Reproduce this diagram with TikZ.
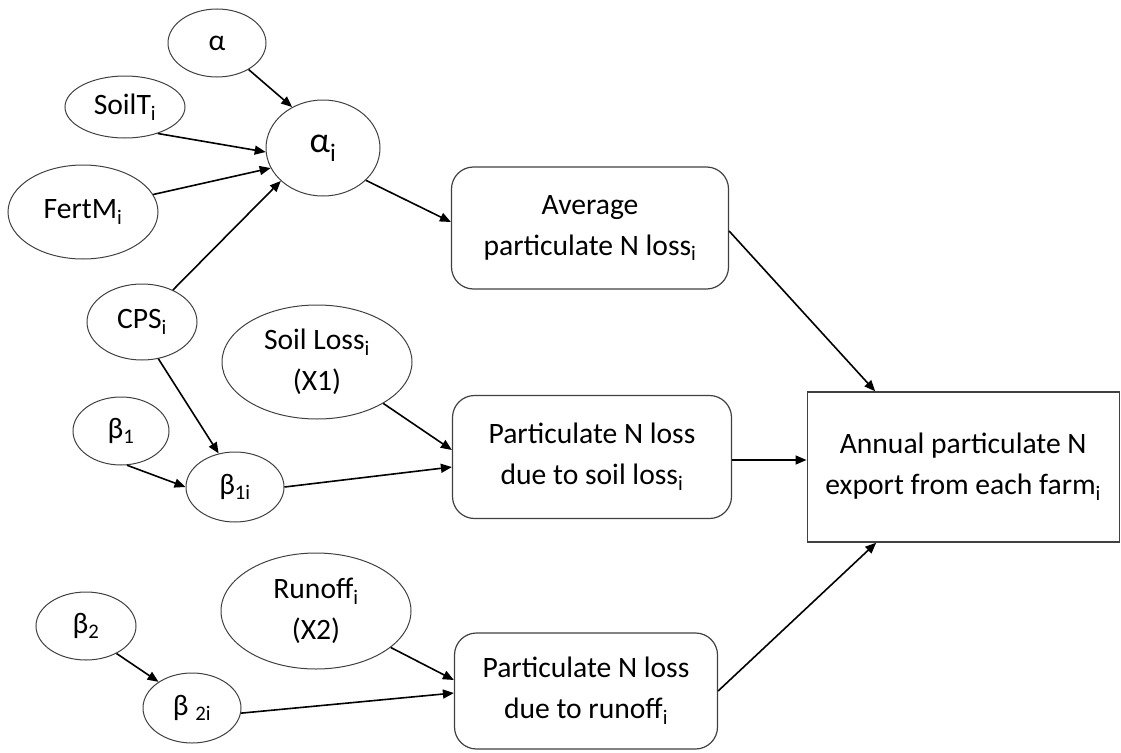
\documentclass[tikz,border=0pt]{standalone}
\usepackage{fontspec}
\setmainfont{Carlito}
\usetikzlibrary{shapes.geometric,arrows.meta}
\newcommand{\lw}[1]{\textsubscript{#1}}
\begin{document}
\begin{tikzpicture}[x=1pt,y=-1pt,
  every node/.style={font=\fontsize{29.6}{41}\selectfont, align=center, inner sep=0pt},
  ell/.style={ellipse, draw=black!75, line width=1pt},
  rbox/.style={rectangle, rounded corners=22pt, draw=black!75, line width=1.2pt},
  sbox/.style={rectangle, draw=black!75, line width=1.4pt},
  arr/.style={-{Triangle[length=11pt,width=9pt]}, line width=1.6pt}]
\useasboundingbox (0,0) rectangle (1121,752);

% ellipses
\node[ell, minimum width=98pt, minimum height=68pt] (alpha) at (217,43) {α};
\node[ell, minimum width=120pt, minimum height=62pt] (soilt) at (125,107) {SoilT\lw{i}};
\node[ell, minimum width=114pt, minimum height=96pt, font=\fontsize{36}{40}\selectfont] (alphai) at (323,148) {α\lw{i}};
\node[ell, minimum width=150pt, minimum height=94pt] (fertm) at (83,212) {FertM\lw{i}};
\node[ell, minimum width=110pt, minimum height=76pt] (cps) at (142,322) {CPS\lw{i}};
\node[ell, minimum width=190pt, minimum height=114pt] (soilloss) at (317,362) {Soil Loss\lw{i}\\(X1)};
\node[ell, minimum width=96pt, minimum height=68pt] (beta1) at (121,431) {β\lw{1}};
\node[ell, minimum width=98pt, minimum height=70pt] (beta1i) at (235,487) {β\lw{1i}};
\node[ell, minimum width=190pt, minimum height=116pt] (runoff) at (316,611) {Runoff\lw{i}\\(X2)};
\node[ell, minimum width=100pt, minimum height=68pt] (beta2) at (86,626) {β\lw{2}};
\node[ell, minimum width=98pt, minimum height=70pt] (beta2i) at (192,708) {β \lw{2i}};

% boxes
\node[rbox, minimum width=277pt, minimum height=122pt] (avg) at (590,228) {Average\\particulate N loss\lw{i}};
\node[rbox, minimum width=279pt, minimum height=123pt] (soilbox) at (592,457) {Particulate N loss\\due to soil loss\lw{i}};
\node[rbox, minimum width=263pt, minimum height=116pt] (runbox) at (586,691) {Particulate N loss\\due to runoff\lw{i}};
\node[sbox, minimum width=312pt, minimum height=150pt] (annual) at (963.2,467) {Annual particulate N\\export from each farm\lw{i}};

% connectors
\draw[arr] (alpha.-40) -- (alphai.127);
\draw[arr] (soilt.-39) -- (alphai.184);
\draw[arr] (fertm.14) -- (alphai.201);
\draw[arr] (cps.46) -- (alphai.218);
\draw[arr] (alphai.-37) -- ([yshift=6pt]avg.west);
\draw[arr] (cps.-66) -- (beta1i.116);
\draw[arr] (beta1.-80) -- (beta1i.180);
\draw[arr] (beta1i.0) -- ([yshift=-10pt]soilbox.west);
\draw[arr] (soilloss.-32) -- ([yshift=7pt]soilbox.west);
\draw[arr] ([yshift=-3pt]soilbox.east) -- ([yshift=-3pt]soilbox.east -| annual.west);
\draw[arr] ([yshift=-3pt]avg.east) -- ([xshift=-88pt]annual.north);
\draw[arr] (runbox.east) -- ([xshift=-87pt]annual.south);
\draw[arr] (beta2.-42) -- (beta2i.142);
\draw[arr] (beta2i.-6) -- ([yshift=-2pt]runbox.west);
\draw[arr] (runoff.-26) -- ([yshift=11pt]runbox.west);
\end{tikzpicture}
\end{document}
